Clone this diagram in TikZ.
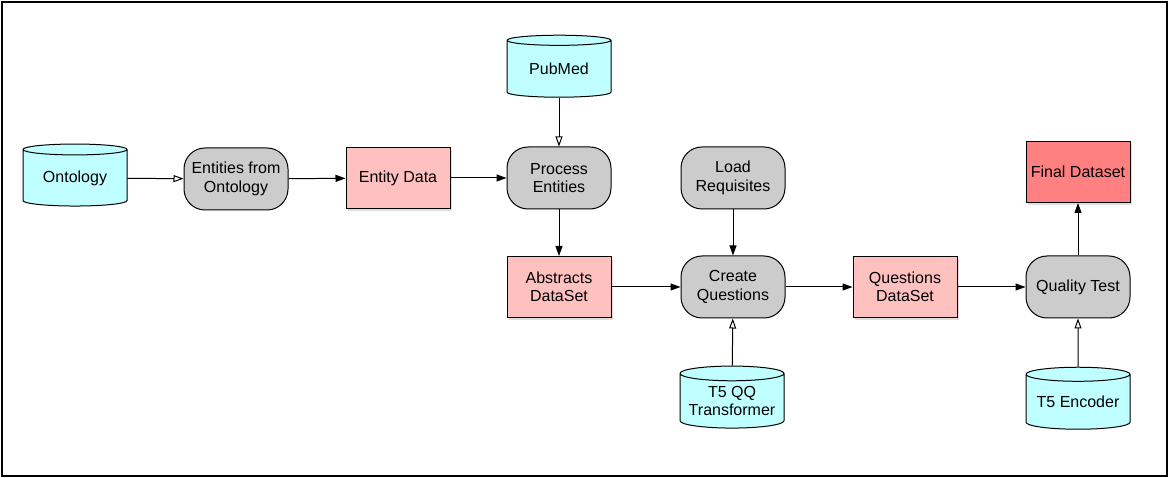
\documentclass[tikz,border=0pt]{standalone}
\usepackage{fontspec}
\setmainfont{Liberation Sans}
\usetikzlibrary{shapes.geometric,arrows.meta,shadows}
\definecolor{dbcyan}{HTML}{C0FFFF}
\definecolor{stepgray}{HTML}{CCCCCC}
\definecolor{datapink}{HTML}{FFC0C0}
\definecolor{finalred}{HTML}{FF8080}
\begin{document}
\begin{tikzpicture}[x=1pt,y=-1pt,
  font=\fontsize{16}{18.5}\selectfont,
  dbnode/.style={cylinder, shape border rotate=90, aspect=0.17, draw=black, line width=1pt,
    cylinder uses custom fill, cylinder body fill=dbcyan, cylinder end fill=dbcyan,
    minimum width=104pt, minimum height=62pt, align=center, inner sep=0pt},
  stepnode/.style={rectangle, rounded corners=21pt, draw=black, line width=1pt, fill=stepgray,
    minimum width=104pt, minimum height=62pt, align=center, inner sep=0pt},
  datanode/.style={rectangle, draw=black, line width=1pt, fill=datapink,
    drop shadow={shadow xshift=2pt, shadow yshift=-3pt, opacity=0.25},
    minimum width=104pt, minimum height=61pt, align=center, inner sep=0pt},
  flow/.style={draw=black, line width=1pt, -{Triangle[length=10pt,width=7pt]}},
  feed/.style={draw=black, line width=1pt, -{Triangle[open,length=10pt,width=7pt,fill=white]}}]
  \useasboundingbox (0,0) rectangle (1170,478);
  \draw[draw=black, line width=2pt] (2,2) rectangle (1167,476);
  \node[dbnode] (ontology) at (75,178) {Ontology};
  \node[stepnode] (entfrom) at (236,179) {Entities from\\Ontology};
  \node[datanode] (entdata) at (398,178) {Entity Data};
  \node[dbnode] (pubmed) at (559,69) {PubMed};
  \node[stepnode] (process) at (559,178) {Process\\Entities};
  \node[datanode] (abstracts) at (559,287) {Abstracts\\DataSet};
  \node[stepnode] (load) at (733,178) {Load\\Requisites};
  \node[stepnode] (create) at (733,287) {Create\\Questions};
  \node[dbnode] (tfiveqq) at (732,401) {T5 QQ\\Transformer};
  \node[datanode] (questions) at (905,287) {Questions\\DataSet};
  \node[stepnode] (quality) at (1078,287) {Quality Test};
  \node[datanode, fill=finalred] (final) at (1078,172) {Final Dataset};
  \node[dbnode] (encoder) at (1078,402) {T5 Encoder};
  \draw[feed] (ontology) -- (entfrom);
  \draw[flow] (entfrom) -- (entdata);
  \draw[flow] (entdata) -- (process);
  \draw[feed] (pubmed) -- (process);
  \draw[flow] (process) -- (abstracts);
  \draw[flow] (abstracts) -- (create);
  \draw[flow] (load) -- (create);
  \draw[feed] (tfiveqq) -- (create);
  \draw[flow] (create) -- (questions);
  \draw[flow] (questions) -- (quality);
  \draw[feed] (encoder) -- (quality);
  \draw[flow] (quality) -- (final);
\end{tikzpicture}
\end{document}
